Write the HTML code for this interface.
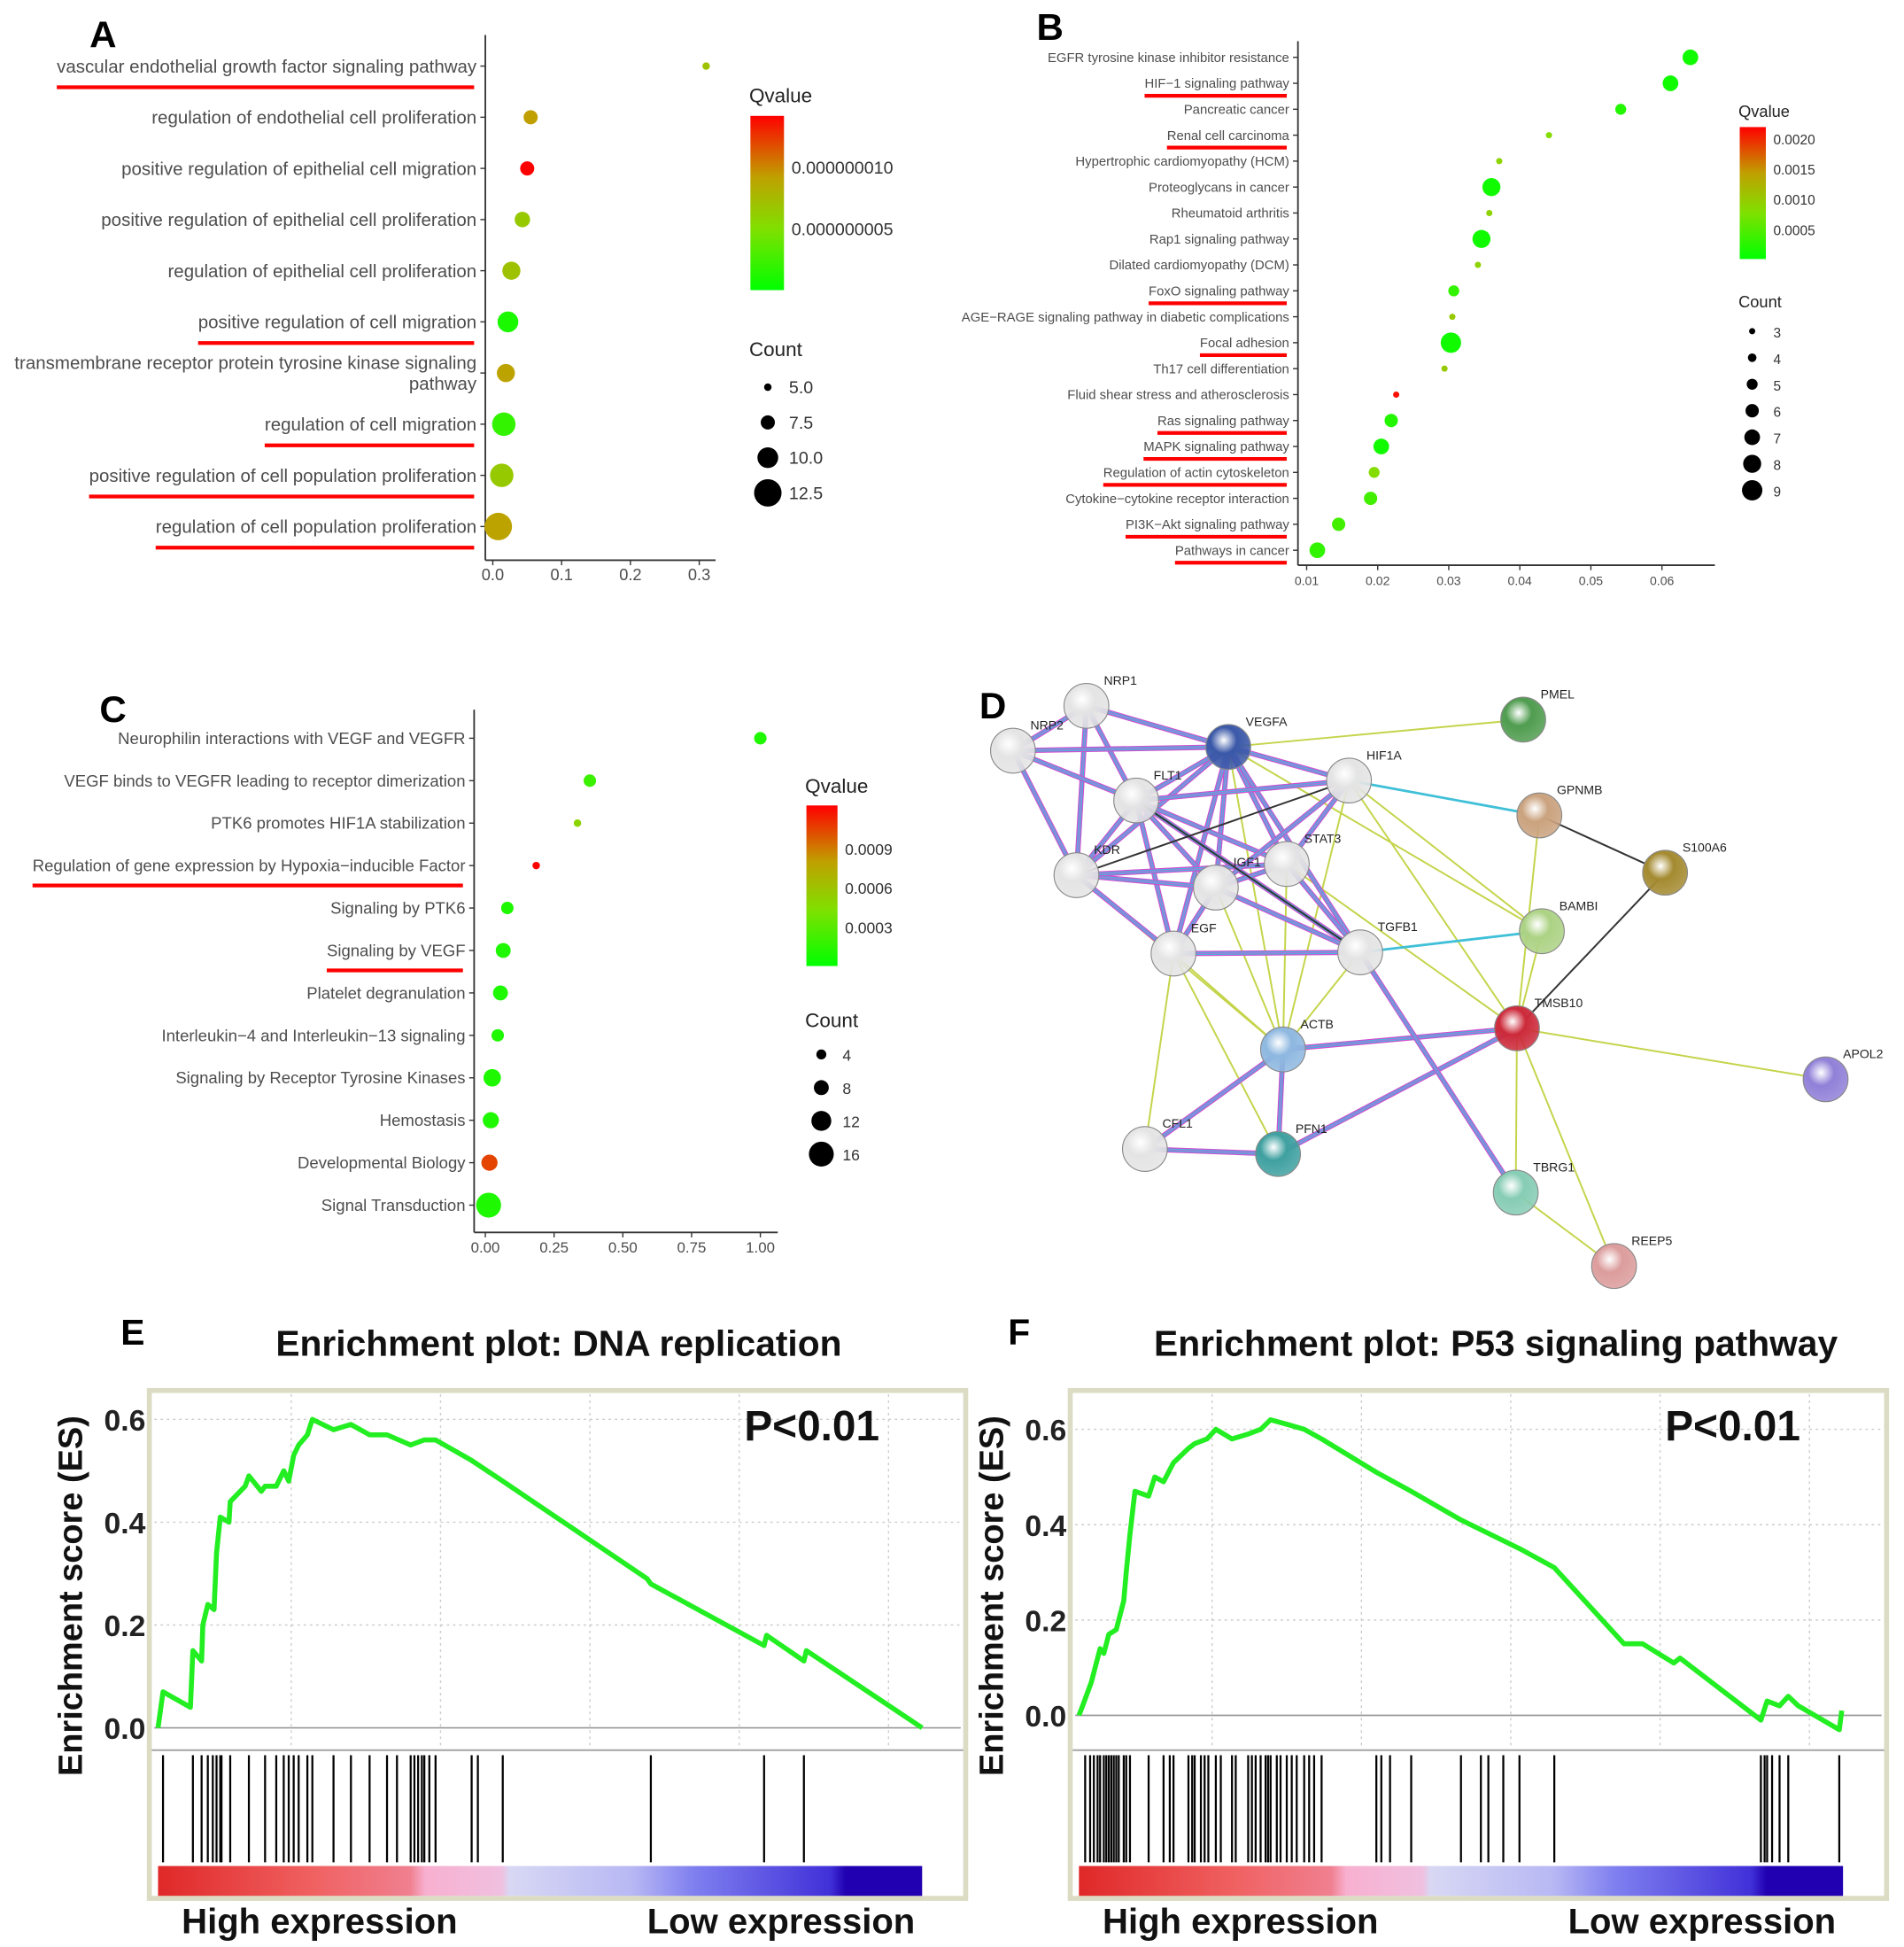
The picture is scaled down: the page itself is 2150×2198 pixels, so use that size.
<!DOCTYPE html>
<html><head><meta charset="utf-8">
<style>
html,body{margin:0;padding:0;background:#fff;}
svg{display:block;font-family:"Liberation Sans",Arial,sans-serif;}
</style></head>
<body>
<svg id="fig" width="2150" height="2198" viewBox="0 0 1530 1564" xmlns="http://www.w3.org/2000/svg">
<defs>
<linearGradient id="qgrad" x1="0" y1="1" x2="0" y2="0">
<stop offset="0" stop-color="#00ff00"/><stop offset="0.35" stop-color="#80e000"/><stop offset="0.65" stop-color="#c0a000"/><stop offset="1" stop-color="#ff0000"/>
</linearGradient>
<linearGradient id="rankgrad" x1="0" y1="0" x2="1" y2="0">
<stop offset="0" stop-color="#e02828"/><stop offset="0.2" stop-color="#f06060"/><stop offset="0.33" stop-color="#f08090"/><stop offset="0.35" stop-color="#f8b0d0"/><stop offset="0.45" stop-color="#f0c0e0"/><stop offset="0.46" stop-color="#d8d8f4"/><stop offset="0.62" stop-color="#b8b8f4"/><stop offset="0.7" stop-color="#8080f0"/><stop offset="0.88" stop-color="#4030d8"/><stop offset="0.9" stop-color="#2000b0"/><stop offset="1" stop-color="#2000b0"/>
</linearGradient>
</defs>
<g id="root"></g>
</svg>
<script>
const NS='http://www.w3.org/2000/svg';
const root=document.getElementById('root');
function mk(tag,attrs,parent){const e=document.createElementNS(NS,tag);for(const k in attrs)e.setAttribute(k,attrs[k]);(parent||root).appendChild(e);return e;}
function txt(s,attrs,parent){const e=mk('text',attrs,parent);e.textContent=s;return e;}
function qcol(t){t=Math.max(0,Math.min(1,t));const st=[[0,0,255,0],[0.35,128,224,0],[0.65,192,160,0],[1,255,0,0]];for(let i=1;i<st.length;i++){if(t<=st[i][0]){const a=st[i-1],b=st[i],f=(t-a[0])/(b[0]-a[0]);return 'rgb('+[1,2,3].map(j=>Math.round(a[j]+(b[j]-a[j])*f)).join(',')+')';}}return 'red';}

/* ===== Panel A data ===== */
const aTerms=["vascular endothelial growth factor signaling pathway","regulation of endothelial cell proliferation","positive regulation of epithelial cell migration","positive regulation of epithelial cell proliferation","regulation of epithelial cell proliferation","positive regulation of cell migration","transmembrane receptor protein tyrosine kinase signaling|pathway","regulation of cell migration","positive regulation of cell population proliferation","regulation of cell population proliferation"];
const aRatio=[0.31,0.055,0.05,0.043,0.027,0.022,0.019,0.016,0.013,0.008];
const aCount=[5,7.5,7.5,8,9,10,9,11,11,12.5];
const aQ=[0.07,0.092,0.145,0.065,0.07,0.01,0.09,0.02,0.065,0.09];
const aUnder=[1,0,0,0,0,1,0,1,1,1];
const aXTicks=[0,0.1,0.2,0.3];
const aXTickLabels=["0.0","0.1","0.2","0.3"];
const aQTicks=[0.10,0.05];
const aQTickLabels=["0.000000010","0.000000005"];
const aCountLegend=[5,7.5,10,12.5];
const aCountLabels=["5.0","7.5","10.0","12.5"];

/* ===== Panel B data ===== */
const bTerms=["EGFR tyrosine kinase inhibitor resistance","HIF−1 signaling pathway","Pancreatic cancer","Renal cell carcinoma","Hypertrophic cardiomyopathy (HCM)","Proteoglycans in cancer","Rheumatoid arthritis","Rap1 signaling pathway","Dilated cardiomyopathy (DCM)","FoxO signaling pathway","AGE−RAGE signaling pathway in diabetic complications","Focal adhesion","Th17 cell differentiation","Fluid shear stress and atherosclerosis","Ras signaling pathway","MAPK signaling pathway","Regulation of actin cytoskeleton","Cytokine−cytokine receptor interaction","PI3K−Akt signaling pathway","Pathways in cancer"];
const bRatio=[0.064,0.0612,0.0542,0.0441,0.0371,0.036,0.0357,0.0346,0.0341,0.0307,0.0305,0.0303,0.0294,0.0226,0.0219,0.0205,0.0195,0.019,0.0145,0.0115];
const bCount=[7,7,5,3,3,8,3,8,3,5,3,9,3,3,6,7,5,6,6,7];
const bQ=[0.0001,0.0001,0.0002,0.0008,0.0009,0.0001,0.0009,0.0001,0.0009,0.0003,0.001,0.0001,0.001,0.0021,0.0002,0.0001,0.0008,0.0004,0.0004,0.0003];
const bUnder=[0,1,0,1,0,0,0,0,0,1,0,1,0,0,1,1,1,0,1,1];
const bXTicks=[0.01,0.02,0.03,0.04,0.05,0.06];
const bXTickLabels=["0.01","0.02","0.03","0.04","0.05","0.06"];
const bQTicks=[0.002,0.0015,0.001,0.0005];
const bQTickLabels=["0.0020","0.0015","0.0010","0.0005"];
const bCountLegend=[3,4,5,6,7,8,9];

/* ===== Panel C data ===== */
const cTerms=["Neurophilin interactions with VEGF and VEGFR","VEGF binds to VEGFR leading to receptor dimerization","PTK6 promotes HIF1A stabilization","Regulation of gene expression by Hypoxia−inducible Factor","Signaling by PTK6","Signaling by VEGF","Platelet degranulation","Interleukin−4 and Interleukin−13 signaling","Signaling by Receptor Tyrosine Kinases","Hemostasis","Developmental Biology","Signal Transduction"];
const cRatio=[1.0,0.38,0.335,0.185,0.08,0.065,0.055,0.045,0.025,0.02,0.015,0.012];
const cCount=[6,6,2,2,6,8,8,6,10,9,9,16];
const cQ=[0.0001,0.0002,0.0005,0.00125,0.0001,0.0001,0.0001,0.0001,0.0001,0.0001,0.00105,0.0001];
const cUnder=[0,0,0,1,0,1,0,0,0,0,0,0];
const cXTicks=[0,0.25,0.5,0.75,1];
const cXTickLabels=["0.00","0.25","0.50","0.75","1.00"];
const cQTicks=[0.0009,0.0006,0.0003];
const cQTickLabels=["0.0009","0.0006","0.0003"];
const cCountLegend=[4,8,12,16];

/* ===== GSEA data (rank units) ===== */
const eCurveRank=[0,80,520,560,700,720,800,900,940,1000,1140,1160,1400,1460,1660,1720,1900,2020,2100,2180,2260,2400,2480,2820,3100,3400,3680,4060,4280,4460,5040,5540,7860,7920,9740,9780,10380,10420,12280];
const eCurveES=[0,0.07,0.04,0.15,0.13,0.2,0.24,0.23,0.34,0.41,0.4,0.44,0.47,0.49,0.46,0.47,0.47,0.5,0.48,0.53,0.55,0.57,0.6,0.58,0.59,0.57,0.57,0.55,0.56,0.56,0.52,0.48,0.29,0.28,0.16,0.18,0.13,0.15,0.0];
const eHits=[80,560,700,800,880,940,1000,1020,1160,1460,1720,1900,2020,2100,2180,2260,2400,2480,2820,3100,3400,3680,3840,4060,4120,4180,4240,4280,4360,4460,5040,5140,5540,7920,9740,10380];
const fCurveRank=[0,60,200,260,340,400,480,600,720,760,820,900,1120,1220,1360,1520,1760,1860,2060,2200,2460,2720,2920,3080,3360,3620,3900,4780,5340,6140,7080,7640,8760,9060,9560,9660,10960,11060,11260,11400,11560,12220,12260];
const fCurveES=[0,0.02,0.07,0.1,0.14,0.13,0.17,0.18,0.24,0.3,0.38,0.47,0.46,0.5,0.49,0.53,0.56,0.57,0.58,0.6,0.58,0.59,0.6,0.62,0.61,0.6,0.58,0.51,0.47,0.41,0.35,0.31,0.15,0.15,0.11,0.12,-0.01,0.03,0.02,0.04,0.02,-0.03,0.01];
const fHits=[100,180,240,300,340,400,440,480,520,560,600,640,720,760,820,1120,1360,1460,1520,1760,1820,1860,1960,2020,2080,2200,2280,2460,2520,2720,2780,2840,2920,3000,3040,3080,3180,3240,3340,3420,3500,3620,3700,3780,3900,4780,4860,5000,5340,6140,6460,6580,6820,7080,7640,10960,11020,11060,11140,11260,11400,12220];
const esTicks=[0.6,0.4,0.2,0.0];
const esTickLabels=["0.6","0.4","0.2","0.0"];

/* ===== generic dot plot ===== */
function dotPlot(o){
  const g=mk('g',{});
  
  
  const L=txt(o.letter,{x:o.letterX,y:o.letterY,'font-size':30,'font-weight':'bold',fill:'#000'},g);
  
  
  const xs=v=>o.x0+(v-o.v0)*o.k;
  const ys=i=>o.y0+i*o.dy;
  const ax=mk('line',{x1:o.axX,y1:o.axTop,x2:o.axX,y2:o.axBot,stroke:'#333','stroke-width':1.3},g);
  
  
  const bx=mk('line',{x1:o.axX,y1:o.axBot,x2:o.axRight,y2:o.axBot,stroke:'#333','stroke-width':1.3},g);
  
  
  o.xTicks.forEach((v,i)=>{
    const t=mk('line',{x1:xs(v),y1:o.axBot,x2:xs(v),y2:o.axBot+4,stroke:'#333'},g);
    
    
    const tl=txt(o.xTickLabels[i],{x:xs(v),y:o.axBot+16,'font-size':o.tickFs,'text-anchor':'middle',fill:'#4d4d4d'},g);
    
    
  });
  o.terms.forEach((s,i)=>{
    const y=ys(i);
    const tk=mk('line',{x1:o.axX-4,y1:y,x2:o.axX,y2:y,stroke:'#333'},g);
    
    
    const parts=s.split('|');
    let w=0;
    parts.forEach((p,j)=>{
      const yy=y+o.fs*0.35+(j-(parts.length-1)/2)*o.fs*1.15;
      const t=txt(p,{x:o.axX-7,y:yy,'font-size':o.fs,'text-anchor':'end',fill:'#4d4d4d'},g);
      
      
      w=Math.max(w,t.getComputedTextLength());
    });
    if(o.under[i]){
      const u=mk('line',{x1:o.axX-7-w-o.uPad,y1:y+o.uOff,x2:o.axX-9,y2:y+o.uOff,stroke:'#f00','stroke-width':3},g);
      
      
    }
    const c=mk('circle',{cx:xs(o.ratio[i]),cy:y,r:o.rs(o.count[i]),fill:qcol(o.q[i]/o.qMax)},g);
    
    
  });
  const qt=txt('Qvalue',{x:o.legX,y:o.qTitleY,'font-size':o.legTitleFs,fill:'#222'},g);
  
  
  const bar=mk('rect',{x:o.legX+1,y:o.barTop,width:o.barW,height:o.barBot-o.barTop,fill:'url(#qgrad)'},g);
  
  
  o.qTicks.forEach((v,i)=>{
    const y=o.barBot-(v/o.qMax)*(o.barBot-o.barTop);
    const tl=txt(o.qTickLabels[i],{x:o.legX+o.barW+7,y:y+5,'font-size':o.legFs,fill:'#333'},g);
    
    
  });
  const ct=txt('Count',{x:o.legX,y:o.cTitleY,'font-size':o.legTitleFs,fill:'#222'},g);
  
  
  o.countLegend.forEach((v,i)=>{
    const y=o.cY0+i*o.cDy;
    const c=mk('circle',{cx:o.cX,cy:y,r:o.rs(v),fill:'#000'},g);
    
    
    const tl=txt(o.countLabels?o.countLabels[i]:String(v),{x:o.cX+17,y:y+5,'font-size':o.legFs,fill:'#333'},g);
    
    
  });
}

dotPlot({name:'panel-a-go-dotplot',letter:'A',letterX:72,letterY:38,terms:aTerms,ratio:aRatio,count:aCount,q:aQ,under:aUnder,
  x0:396,v0:0,k:553,y0:53,dy:41.1,axX:390,axTop:28,axBot:450,axRight:575,xTicks:aXTicks,xTickLabels:aXTickLabels,tickFs:13,fs:14.6,uOff:17,uPad:0,
  rs:c=>3+(c-5)*1.07,qMax:0.142,legX:602,qTitleY:82,barTop:93,barBot:233,barW:27,qTicks:aQTicks,qTickLabels:aQTickLabels,legFs:14,legTitleFs:16,
  cTitleY:286,countLegend:aCountLegend,countLabels:aCountLabels,cX:617,cY0:311,cDy:28.3});
dotPlot({name:'panel-b-kegg-dotplot',letter:'B',letterX:833,letterY:32,terms:bTerms,ratio:bRatio,count:bCount,q:bQ,under:bUnder,
  x0:1050,v0:0.01,k:5710,y0:46,dy:20.84,axX:1043,axTop:33,axBot:454,axRight:1378,xTicks:bXTicks,xTickLabels:bXTickLabels,tickFs:10,fs:10.6,uOff:10,uPad:0,
  rs:c=>2.5+(c-3)*0.95,qMax:0.00218,legX:1397,qTitleY:94,barTop:102,barBot:208,barW:21,qTicks:bQTicks,qTickLabels:bQTickLabels,legFs:11,legTitleFs:13,
  cTitleY:247,countLegend:bCountLegend,cX:1408,cY0:266,cDy:21.3});
dotPlot({name:'panel-c-reactome-dotplot',letter:'C',letterX:80,letterY:580,terms:cTerms,ratio:cRatio,count:cCount,q:cQ,under:cUnder,
  x0:390,v0:0,k:221,y0:593,dy:34.1,axX:381,axTop:570,axBot:990,axRight:625,xTicks:cXTicks,xTickLabels:cXTickLabels,tickFs:12,fs:13.2,uOff:16,uPad:0,
  rs:c=>3+(c-2)*0.5,qMax:0.00123,legX:647,qTitleY:637,barTop:647,barBot:776,barW:25,qTicks:cQTicks,qTickLabels:cQTickLabels,legFs:12.5,legTitleFs:16,
  cTitleY:825,countLegend:cCountLegend,cX:660,cY0:847,cDy:26.7});

/* ===== Panel D network ===== */
const nodeNames=["NRP1","NRP2","VEGFA","FLT1","HIF1A","KDR","IGF1","STAT3","EGF","TGFB1","ACTB","CFL1","PFN1","PMEL","GPNMB","S100A6","BAMBI","TMSB10","APOL2","TBRG1","REEP5"];
const nodeX=[873,814,987,913,1084,865,977,1034,943,1093,1031,920,1027,1224,1237,1338,1239,1219,1467,1218,1297];
const nodeY=[567,603,600,643,627,703,713,694,766,765,843,923,927,578,655,701,748,826,867,958,1017];
const nodeCol=["#e4e4e4","#e4e4e4","#3a58a8","#e4e4e4","#e4e4e4","#e4e4e4","#e4e4e4","#e4e4e4","#e4e4e4","#e4e4e4","#8eb8e0","#e4e4e4","#3fa0a0","#4f9c4f","#caa27e","#a48a30","#acd284","#cc2a3a","#9080d8","#86ccb4","#dc9c9c"];
const richEdges=[[0,1],[0,2],[0,3],[0,5],[1,2],[1,3],[1,5],[2,3],[2,5],[2,4],[2,6],[2,7],[2,9],[2,8],[3,5],[3,4],[3,6],[3,7],[3,9],[3,8],[5,6],[5,8],[5,7],[6,7],[6,9],[6,8],[4,7],[4,6],[7,9],[8,9],[10,17],[10,12],[10,11],[11,12],[12,17],[9,19]];
const cyanEdges=[[9,16],[4,14]];
const blackEdges=[[5,4],[14,15],[15,17],[3,9]];
const yellowEdges=[[2,13],[4,17],[4,10],[2,10],[7,10],[6,10],[8,10],[8,12],[8,11],[5,10],[9,10],[16,17],[17,18],[17,19],[17,20],[19,20],[14,17],[5,8],[4,16],[2,16],[7,17]];
(function(){
  const g=mk('g',{});
  
  
  const L=txt('D',{x:787,y:577,'font-size':30,'font-weight':'bold',fill:'#000'},g);
  
  
  const defs=document.querySelector('defs');
  function line(e,st,w,name){const l=mk('line',{x1:nodeX[e[0]],y1:nodeY[e[0]],x2:nodeX[e[1]],y2:nodeY[e[1]],stroke:st,'stroke-width':w},g);}
  yellowEdges.forEach(e=>line(e,'#c4d44a',1.4,'edge-textmining'));
  richEdges.forEach(e=>{line(e,'#d050d0',4.2,'edge-multi');line(e,'#40b8d8',2.4,'edge-multi-inner');line(e,'#b070e0',0.9,'edge-multi-core');});
  cyanEdges.forEach(e=>line(e,'#40c0d8',2,'edge-database'));
  blackEdges.forEach(e=>line(e,'#333',1.4,'edge-coexpression'));
  nodeNames.forEach((n,i)=>{
    const gid='ng'+i;
    const rg=mk('radialGradient',{id:gid,cx:'0.4',cy:'0.35',r:'0.65'},defs);
    mk('stop',{offset:'0','stop-color':'#ffffff'},rg);
    mk('stop',{offset:'0.45','stop-color':nodeCol[i]},rg);
    mk('stop',{offset:'1','stop-color':nodeCol[i],'stop-opacity':'0.85'},rg);
    const c=mk('circle',{cx:nodeX[i],cy:nodeY[i],r:18,fill:'url(#'+gid+')',stroke:'#888','stroke-width':0.8},g);
    
    
    const t=txt(n,{x:nodeX[i]+14,y:nodeY[i]-17,'font-size':10,fill:'#222'},g);
    
    
  });
})();

/* ===== GSEA plots ===== */
function gsea(o){
  const g=mk('g',{});
  
  
  const L=txt(o.letter,{x:o.letterX,y:1080,'font-size':29,'font-weight':'bold',fill:'#000'},g);
  
  
  const T=txt(o.title,{x:o.titleX,y:1089,'font-size':29,'font-weight':'bold','text-anchor':'middle',fill:'#111'},g);
  
  
  const fr=mk('rect',{x:o.fx,y:1117,width:656,height:408,fill:'#fff',stroke:'#dcdcc4','stroke-width':4},g);
  
  
  const xr=r=>o.rx0+r/20;
  const ye=v=>o.y0-v*o.k;
  for(let i=1;i<=5;i++){
    const gx=mk('line',{x1:o.fx+4+i*120-10,y1:1120,x2:o.fx+4+i*120-10,y2:1404,stroke:'#ccc','stroke-dasharray':'2,3'},g);
    
    
  }
  esTicks.forEach((v,i)=>{
    if(v!==0){const gy=mk('line',{x1:o.fx+4,y1:ye(v),x2:o.fx+652,y2:ye(v),stroke:'#ccc','stroke-dasharray':'2,3'},g);
    
    }
    const tl=txt(esTickLabels[i],{x:o.fx-3,y:ye(v)+9,'font-size':24,'font-weight':'bold','text-anchor':'end',fill:'#222'},g);
    
    
  });
  const z=mk('line',{x1:o.fx+4,y1:ye(0),x2:o.fx+652,y2:ye(0),stroke:'#999','stroke-width':1.2},g);
  
  
  const sep=mk('line',{x1:o.fx+2,y1:1406,x2:o.fx+654,y2:1406,stroke:'#aaa','stroke-width':1.5},g);
  
  
  const pts=o.rank.map((r,i)=>xr(r).toFixed(1)+','+ye(o.es[i]).toFixed(1)).join(' ');
  const pl=mk('polyline',{points:pts,fill:'none',stroke:'#22ee22','stroke-width':4,'stroke-linejoin':'round'},g);
  
  
  o.hits.forEach(r=>{
    const h=mk('line',{x1:xr(r),y1:1410,x2:xr(r),y2:1496,stroke:'#000','stroke-width':1.6},g);
    
    
  });
  const cb=mk('rect',{x:o.rx0,y:1499,width:614,height:24,fill:'url(#rankgrad)'},g);
  
  
  const P=txt('P<0.01',{x:o.fx+478,y:1157,'font-size':34,'font-weight':'bold',fill:'#111'},g);
  
  
  const yl=txt('Enrichment score (ES)',{x:0,y:0,'font-size':27,'font-weight':'bold','text-anchor':'middle',fill:'#111',transform:'translate('+(o.fx-54)+',1282) rotate(-90)'},g);
  
  
  const hi=txt('High expression',{x:o.fx+26,y:1553,'font-size':28.5,'font-weight':'bold',fill:'#111'},g);
  
  
  const lo=txt('Low expression',{x:o.fx+400,y:1553,'font-size':28.5,'font-weight':'bold',fill:'#111'},g);
  
  
}
gsea({name:'panel-e-gsea-dna-replication',letter:'E',letterX:97,title:'Enrichment plot: DNA replication',titleX:449,fx:120,rx0:127,y0:1388,k:413,rank:eCurveRank,es:eCurveES,hits:eHits});
gsea({name:'panel-f-gsea-p53',letter:'F',letterX:810,title:'Enrichment plot: P53 signaling pathway',titleX:1202,fx:860,rx0:867,y0:1378,k:383,rank:fCurveRank,es:fCurveES,hits:fHits});
</script>
</body></html>
